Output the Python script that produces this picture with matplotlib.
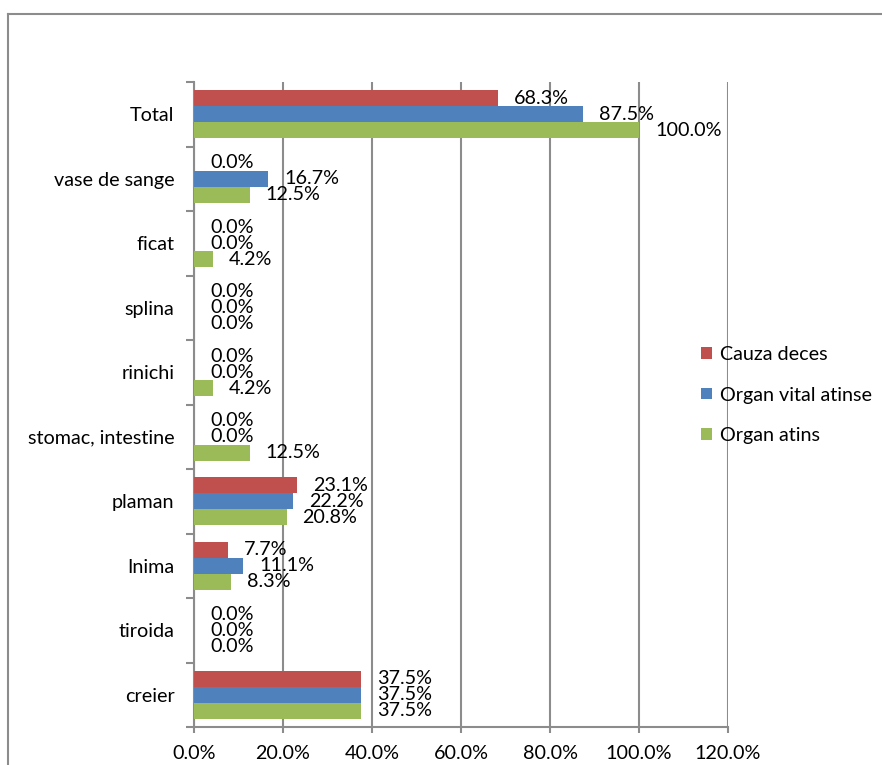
"""
Organ injuries: share of cases per organ
"""
import numpy as np
import matplotlib.pyplot as plt
from matplotlib.lines import Line2D
from matplotlib.ticker import FixedLocator, FuncFormatter

# Categories listed bottom to top
categories = ['creier', 'tiroida', 'Inima', 'plaman', 'stomac, intestine',
              'rinichi', 'splina', 'ficat', 'vase de sange', 'Total']

cauza_deces = [37.5, 0.0, 7.7, 23.1, 0.0, 0.0, 0.0, 0.0, 0.0, 68.3]
organ_vital = [37.5, 0.0, 11.1, 22.2, 0.0, 0.0, 0.0, 0.0, 16.7, 87.5]
organ_atins = [37.5, 0.0, 8.3, 20.8, 12.5, 4.2, 0.0, 4.2, 12.5, 100.0]

series_names = ['Cauza deces', 'Organ vital atinse', 'Organ atins']
colors = ['#C0504D', '#4F81BD', '#9BBB59']
grid_gray = '#8C8C8C'
fs = 14.2

plt.rcParams['font.family'] = ['Lato', 'DejaVu Sans']

fig = plt.figure(figsize=(8.82, 7.65), dpi=100)
ax = fig.add_axes([194 / 882, 1 - 727 / 765, 534 / 882, 645 / 765])

y = np.arange(len(categories))
h = 0.25
offsets = [h, 0.0, -h]

for vals, name, color, off in zip([cauza_deces, organ_vital, organ_atins],
                                  series_names, colors, offsets):
    ax.barh(y + off, vals, height=h, color=color, label=name, zorder=3)
    for v, yy in zip(vals, y + off):
        ax.annotate(f'{v:.1f}%', (v, yy), xytext=(11.5, 0),
                    textcoords='offset points', ha='left', va='center',
                    fontsize=fs, zorder=4)

ax.set_xlim(0, 120)
ax.set_ylim(-0.5, len(categories) - 0.5)
ax.set_xticks(np.arange(0, 121, 20))
ax.xaxis.set_major_formatter(FuncFormatter(lambda v, p: f'{v:.1f}%'))
ax.grid(axis='x', color=grid_gray, lw=1.5, zorder=0)

# category labels in the middle, tick marks between categories
ax.set_yticks(y)
ax.set_yticklabels(categories)
ax.yaxis.set_minor_locator(FixedLocator(np.arange(-0.5, len(categories), 1.0)))
ax.tick_params(axis='y', which='major', length=0, pad=14, labelsize=fs)
ax.tick_params(axis='y', which='minor', length=6, width=1.5, color=grid_gray)
ax.tick_params(axis='x', length=4, width=1.5, color=grid_gray, pad=9,
               labelsize=fs)

for side in ['top', 'right']:
    ax.spines[side].set_visible(False)
for side in ['left', 'bottom']:
    ax.spines[side].set_color(grid_gray)
    ax.spines[side].set_linewidth(1.5)

fig.legend(loc='upper left', bbox_to_anchor=(691 / 882, 1 - 336 / 765),
           frameon=False, fontsize=fs, handlelength=0.55,
           handleheight=0.55, handletextpad=0.4, labelspacing=1.2,
           borderpad=0)

# outer chart frame (left and top edges)
fig.add_artist(Line2D([8 / 882, 8 / 882], [0, 1 - 14 / 765],
                      color=grid_gray, lw=1.5))
fig.add_artist(Line2D([8 / 882, 1], [1 - 14 / 765, 1 - 14 / 765],
                      color=grid_gray, lw=1.5))

fig.savefig('out.png', dpi=100)
